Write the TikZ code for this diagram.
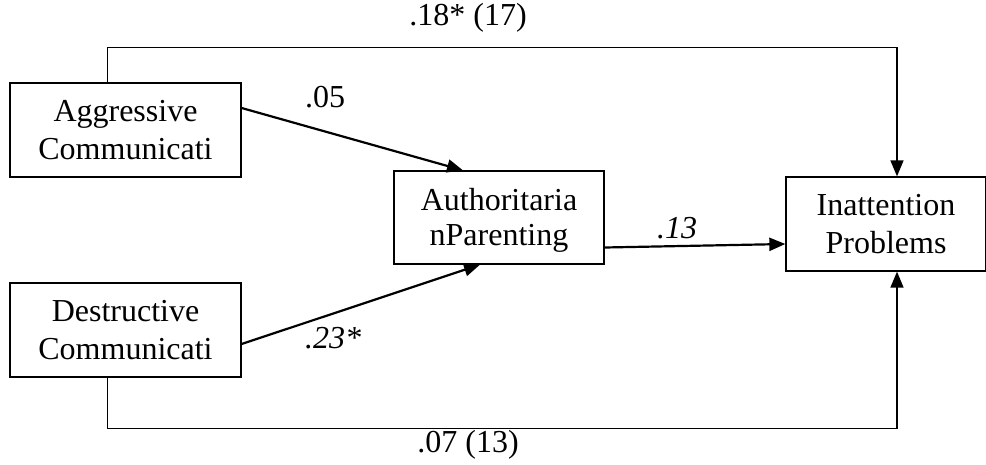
\documentclass[tikz,border=0pt]{standalone}
\usepackage{fontspec}
\setmainfont{Liberation Serif}
\usetikzlibrary{arrows.meta}
\begin{document}
\begin{tikzpicture}[x=1pt,y=-1pt,
  box/.style={draw,line width=1.3pt,minimum width=231pt,minimum height=94pt,align=center,inner sep=0pt,font=\fontsize{32}{38}\selectfont},
  lbl/.style={font=\fontsize{32}{38}\selectfont,inner sep=0pt},
  arr/.style={-{Triangle[length=16pt,width=13pt]},line width=1.5pt},
  thick arr/.style={arr,line width=2.2pt}]
\useasboundingbox (0,0) rectangle (986,464);
\node[box] (1) at (125.5,130) {Aggressive\\Communicati};
\node[box] (2) at (125.5,330) {Destructive\\Communicati};
\node[box,minimum width=210pt,minimum height=93pt,font=\fontsize{32}{35}\selectfont] (3) at (499,217.5) {\rule{0pt}{28pt}Authoritaria\\nParenting};
\node[box,minimum width=200pt] (4) at (886,224) {Inattention\\Problems};
\node[lbl] (5) at (325,97) {.05};
\node[lbl] (6) at (333,338) {\itshape .23*};
\node[lbl] (7) at (677,228) {\itshape .13};
\node[lbl] (8) at (468,18) {.18* (17)};
\node[lbl] (9) at (468,445) {.07 (13)};
\draw[thick arr] ([yshift=22pt]1.east) -- ([xshift=-36pt]3.north);
\draw[thick arr] ([yshift=-14pt]2.east) -- ([xshift=-19pt]3.south);
\draw[thick arr] ([yshift=-30pt]3.east) -- ([yshift=-20pt]4.west);
\draw[arr] ([xshift=-18pt]1.north) -- ++(0,-35) -| ([xshift=11pt]4.north);
\draw[arr] ([xshift=-18pt]2.south) -- ++(0,51) -| ([xshift=11pt]4.south);
\end{tikzpicture}
\end{document}
